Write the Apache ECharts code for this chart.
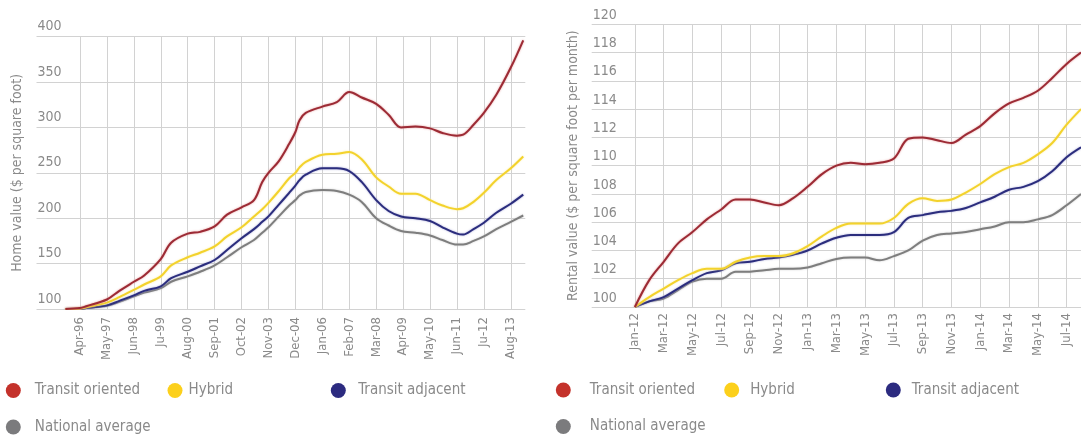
<!DOCTYPE html>
<html>
<head>
<meta charset="utf-8">
<script src="https://cdn.jsdelivr.net/npm/echarts@6/dist/echarts.min.js"></script>
<style>
html,body{margin:0;padding:0;background:#fff;}
#c{width:1081px;height:435px;}
</style>
</head>
<body>
<div id="c"></div>
<script>
// ---------- DATA ----------
const seriesNames = ['Transit oriented', 'Hybrid', 'Transit adjacent', 'National average'];

// Left chart: home value ($ per square foot), monthly axis Jul-94 .. Mar-14
const homeTickLabels = ['Apr-96','May-97','Jun-98','Ju-99','Aug-00','Sep-01','Oct-02','Nov-03','Dec-04','Jan-06','Feb-07','Mar-08','Apr-09','May-10','Jun-11','Ju-12','Aug-13'];
const homeMonths = ['Sep-95','Apr-96','Jul-96','May-97','Nov-97','Jun-98','Nov-98','Jul-99','Dec-99','Aug-00','Feb-01','Sep-01','Mar-02','Oct-02','Apr-03','Aug-03','Nov-03','Apr-04','Sep-04','Dec-04','Feb-05','May-05','Jan-06','Aug-06','Feb-07','Aug-07','Mar-08','Sep-08','Mar-09','Oct-09','May-10','Nov-10','Jun-11','Sep-11','Feb-12','Jul-12','Jan-13','Aug-13','Feb-14'];
const homeTransitOriented = [100,101,103,110.5,120,130,137,155,173,183,185,191,204,212,220,240,250,263,282,295,308,316,323,328,339,333,326,314,300,301,299,294,291,292,303,316,336,366,396];
const homeHybrid          = [100,100.5,102,107,113,121,127,136,148,157,162,169,180,190,202,210,217,230,244,250,256,262,270,271,273,265,245,235,227,227,220,214,210,211,218,228,242,255,268];
const homeTransitAdjacent = [100,100,101,104,109,115,120,125,134,141,147,154,165,178,188,196,202,215,228,236,242,248,255,255,252,240,220,208,202,200,197,190,183,182,188,195,206,216,226];
const homeNational        = [100,100,101,103.5,108,114,118,123,130,136,141,148,157,168,176,184,190,202,214,220,225,229,231,230,226,218,200,192,186,184,181,176,171,171,175,180,188,196,203];

// Right chart: rental value ($ per square foot per month), monthly axis Oct-11 .. Aug-14
const rentTickLabels = ['Jan-12','Mar-12','May-12','Jul-12','Sep-12','Nov-12','Jan-13','Mar-13','May-13','Jul-13','Sep-13','Nov-13','Jan-14','Mar-14','May-14','Jul-14'];
const rentMonths = ['Jan-12','Feb-12','Mar-12','Apr-12','May-12','Jun-12','Jul-12','Aug-12','Sep-12','Oct-12','Nov-12','Dec-12','Jan-13','Feb-13','Mar-13','Apr-13','May-13','Jun-13','Jul-13','Aug-13','Sep-13','Oct-13','Nov-13','Dec-13','Jan-14','Feb-14','Mar-14','Apr-14','May-14','Jun-14','Jul-14','Aug-14'];
const rentTransitOriented = [100,101.9,103.2,104.5,105.3,106.2,106.9,107.6,107.6,107.4,107.2,107.7,108.5,109.4,110.0,110.2,110.1,110.2,110.5,111.9,112.0,111.8,111.6,112.2,112.8,113.7,114.4,114.8,115.3,116.2,117.2,118.0];
const rentHybrid          = [100,100.7,101.3,101.9,102.4,102.7,102.7,103.2,103.5,103.6,103.6,103.8,104.3,105.0,105.6,105.9,105.9,105.9,106.3,107.3,107.7,107.5,107.6,108.1,108.7,109.4,109.9,110.2,110.8,111.6,112.9,114.0];
const rentTransitAdjacent = [100,100.4,100.7,101.3,101.9,102.4,102.6,103.1,103.2,103.4,103.5,103.7,104.0,104.5,104.9,105.1,105.1,105.1,105.3,106.3,106.5,106.7,106.8,107.0,107.4,107.8,108.3,108.5,108.9,109.6,110.6,111.3];
const rentNational        = [100,100.4,100.6,101.2,101.8,102.0,102.0,102.5,102.5,102.6,102.7,102.7,102.8,103.1,103.4,103.5,103.5,103.3,103.6,104.0,104.7,105.1,105.2,105.3,105.5,105.7,106.0,106.0,106.2,106.5,107.2,108.0];

// ---------- HELPERS ----------
const MON = ['Jan','Feb','Mar','Apr','May','Jun','Jul','Aug','Sep','Oct','Nov','Dec'];
function monthAxis(y, m, count) {
  const out = [];
  for (let i = 0; i < count; i++) {
    const mm = (m + i) % 12, yy = y + Math.floor((m + i) / 12);
    out.push(MON[mm] + '-' + String(yy % 100).padStart(2, '0'));
  }
  return out;
}
const homeCats = monthAxis(1994, 6, 237);   // Jul-94 .. Mar-14
const rentCats = monthAxis(2011, 9, 35);    // Oct-11 .. Aug-14
const homeFirst = homeCats.indexOf('Apr-96'), homeStep = 13;
const rentFirst = rentCats.indexOf('Jan-12'), rentStep = 2;
const pairs = (months, vals) => months.map((m, i) => [m, vals[i]]);

const lineColors = ['#9c2b35', '#f3d22c', '#2b2d7d', '#7e7e7e'];
const haloColors = ['rgba(225,140,140,0.9)', 'rgba(250,235,150,0.9)', 'rgba(140,140,200,0.8)', 'rgba(190,190,190,0.8)'];
const legendColors = ['#c4322b', '#fcd01c', '#2c2b80', '#7b7b7d'];
const FONT = '"Liberation Sans Narrow", "DejaVu Sans Condensed", "Noto Sans", sans-serif';
const GRAY = '#8a8a8a';

function mkSeries(xi, months, arrs) {
  return arrs.map((vals, k) => ({
    name: seriesNames[k], type: 'line', xAxisIndex: xi, yAxisIndex: xi,
    data: pairs(months, vals), smooth: 0.35, showSymbol: false, symbol: 'none',
    z: 10 - k,
    lineStyle: { color: lineColors[k], width: 2, shadowColor: haloColors[k], shadowBlur: 2 },
    itemStyle: { color: lineColors[k] }
  }));
}

function mkLegend(name, k, left, top, gap) {
  return {
    data: [{ name: name, itemStyle: { color: legendColors[k] } }],
    left: left, top: top, padding: 0, icon: 'circle', itemWidth: 15, itemHeight: 15,
    selectedMode: false,
    textStyle: { fontFamily: FONT, fontSize: 15, color: GRAY, padding: [0, 0, 0, gap] }
  };
}

const gridLine = { lineStyle: { color: '#d2d2d2', width: 1 } };

const option = {
  backgroundColor: '#fff',
  animation: false,
  grid: [
    { left: 36.5, right: 1081 - 525.3, top: 36.7, bottom: 435 - 309, containLabel: false },
    { left: 591.7, right: -7, top: 24.3, bottom: 435 - 307, containLabel: false }
  ],
  xAxis: [
    {
      type: 'category', gridIndex: 0, data: homeCats, boundaryGap: false,
      axisLine: { show: false }, axisTick: { show: false },
      axisLabel: {
        interval: (i) => i >= homeFirst && (i - homeFirst) % homeStep === 0,
        formatter: (v, i) => homeTickLabels[(i - homeFirst) / homeStep] || '',
        rotate: 90, margin: 8, fontFamily: FONT, fontSize: 13, color: GRAY
      },
      splitLine: { show: true, interval: (i) => i >= homeFirst && (i - homeFirst) % homeStep === 0, ...gridLine }
    },
    {
      type: 'category', gridIndex: 1, data: rentCats, boundaryGap: false,
      axisLine: { show: false }, axisTick: { show: false },
      axisLabel: {
        interval: (i) => i >= rentFirst && (i - rentFirst) % rentStep === 0,
        formatter: (v, i) => rentTickLabels[(i - rentFirst) / rentStep] || '',
        rotate: 90, margin: 6, fontFamily: FONT, fontSize: 13, color: GRAY
      },
      splitLine: { show: true, interval: (i) => i >= rentFirst && (i - rentFirst) % rentStep === 0, ...gridLine }
    }
  ],
  yAxis: [
    {
      type: 'value', gridIndex: 0, min: 100, max: 400, interval: 50,
      axisLine: { show: false }, axisTick: { show: false },
      axisLabel: { inside: true, margin: 1, verticalAlign: 'bottom', padding: [0, 0, 3, 0], fontFamily: FONT, fontSize: 14, color: GRAY },
      splitLine: { show: true, ...gridLine },
      name: 'Home value ($ per square foot)', nameLocation: 'middle', nameGap: 12, nameRotate: 90,
      nameTextStyle: { fontFamily: FONT, fontSize: 14, color: GRAY }
    },
    {
      type: 'value', gridIndex: 1, min: 100, max: 120, interval: 2,
      axisLine: { show: false }, axisTick: { show: false },
      axisLabel: { inside: true, margin: 1, verticalAlign: 'bottom', padding: [0, 0, 2, 0], fontFamily: FONT, fontSize: 14, color: GRAY },
      splitLine: { show: true, ...gridLine },
      name: 'Rental value ($ per square foot per month)', nameLocation: 'middle', nameGap: 11, nameRotate: 90,
      nameTextStyle: { fontFamily: FONT, fontSize: 14, color: GRAY }
    }
  ],
  legend: [
    mkLegend(seriesNames[0], 0, 5.8, 383, 9),
    mkLegend(seriesNames[1], 1, 167.5, 383, 1),
    mkLegend(seriesNames[2], 2, 330.8, 383, 7.5),
    mkLegend(seriesNames[3], 3, 5.8, 419.5, 9),
    mkLegend(seriesNames[0], 0, 555.8, 382.5, 14),
    mkLegend(seriesNames[1], 1, 724.2, 382.5, 6),
    mkLegend(seriesNames[2], 2, 885.8, 382.5, 6),
    mkLegend(seriesNames[3], 3, 555.8, 419, 14)
  ],
  series: [
    ...mkSeries(0, homeMonths, [homeTransitOriented, homeHybrid, homeTransitAdjacent, homeNational]),
    ...mkSeries(1, rentMonths, [rentTransitOriented, rentHybrid, rentTransitAdjacent, rentNational])
  ]
};

const chart = echarts.init(document.getElementById('c'), null, { renderer: 'canvas' });
chart.setOption(option);
</script>
</body>
</html>
